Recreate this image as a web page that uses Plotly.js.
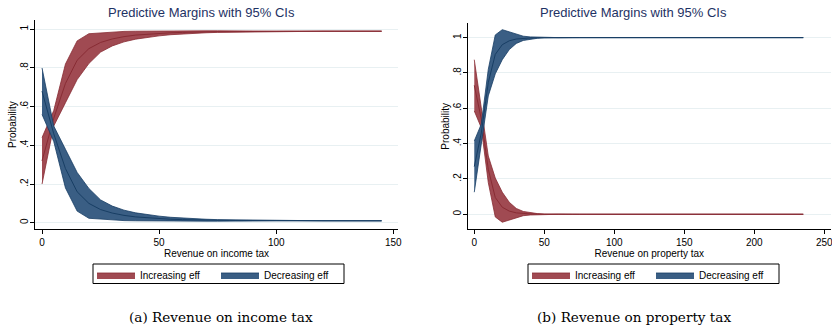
<!DOCTYPE html>
<html>
<head>
<meta charset="utf-8">
<script src="https://cdn.plot.ly/plotly-3.0.1.min.js"></script>
<style>
  html, body { margin: 0; padding: 0; background: #ffffff; }
  #chart { width: 832px; height: 329px; }
</style>
</head>
<body>
<div id="chart"></div>
<script>
// ---------- Panel (a): Revenue on income tax ----------
const incomeX = [0,5,10,15,20,25,30,35,40,45,50,55,60,65,70,75,80,85,90,95,100,105,110,115,120,125,130,135,140,145];
const incomeIncMid = [0.32,0.54,0.72,0.84,0.90,0.932,0.950,0.962,0.970,0.975,0.979,0.982,0.984,0.986,0.987,0.988,0.988,0.989,0.989,0.989,0.990,0.990,0.990,0.990,0.990,0.990,0.990,0.990,0.990,0.990];
const incomeIncLo  = [0.20,0.50,0.62,0.74,0.823,0.882,0.914,0.935,0.949,0.959,0.966,0.972,0.976,0.980,0.982,0.984,0.985,0.987,0.987,0.988,0.989,0.989,0.990,0.990,0.990,0.990,0.990,0.990,0.990,0.990];
const incomeIncHi  = [0.44,0.58,0.82,0.94,0.977,0.982,0.986,0.989,0.990,0.991,0.991,0.992,0.992,0.992,0.992,0.992,0.991,0.991,0.991,0.990,0.990,0.990,0.990,0.990,0.990,0.990,0.990,0.990,0.990,0.990];
const incomeDecMid = [0.68,0.46,0.28,0.16,0.10,0.068,0.050,0.038,0.030,0.025,0.021,0.018,0.016,0.014,0.013,0.012,0.012,0.011,0.011,0.011,0.010,0.010,0.010,0.010,0.010,0.010,0.010,0.010,0.010,0.010];
const incomeDecLo  = [0.56,0.42,0.18,0.06,0.023,0.018,0.014,0.011,0.010,0.009,0.009,0.008,0.008,0.008,0.008,0.008,0.009,0.009,0.009,0.010,0.010,0.010,0.010,0.010,0.010,0.010,0.010,0.010,0.010,0.010];
const incomeDecHi  = [0.80,0.50,0.38,0.26,0.177,0.118,0.086,0.065,0.051,0.041,0.034,0.028,0.024,0.020,0.018,0.016,0.015,0.013,0.013,0.012,0.011,0.011,0.010,0.010,0.010,0.010,0.010,0.010,0.010,0.010];

// ---------- Panel (b): Revenue on property tax ----------
const propX = [0,5,10,15,20,25,30,35,40,45,50,55,60,65,70,75,80,85,90,95,100,105,110,115,120,125,130,135,140,145,150,155,160,165,170,175,180,185,190,195,200,205,210,215,220,225,230,235];
const propDecMid = [0.27,0.46,0.745,0.905,0.96,0.982,0.992,0.996,0.998,0.999,1.0,1,1,1,1,1,1,1,1,1,1,1,1,1,1,1,1,1,1,1,1,1,1,1,1,1,1,1,1,1,1,1,1,1,1,1,1,1];
const propDecLo  = [0.125,0.41,0.67,0.795,0.875,0.932,0.967,0.984,0.992,0.996,0.999,1,1,1,1,1,1,1,1,1,1,1,1,1,1,1,1,1,1,1,1,1,1,1,1,1,1,1,1,1,1,1,1,1,1,1,1,1];
const propDecHi  = [0.415,0.51,0.82,1.015,1.045,1.032,1.017,1.008,1.004,1.002,1.001,1,1,1,1,1,1,1,1,1,1,1,1,1,1,1,1,1,1,1,1,1,1,1,1,1,1,1,1,1,1,1,1,1,1,1,1,1];
const propIncMid = [0.73,0.54,0.255,0.095,0.04,0.018,0.008,0.004,0.002,0.001,0,0,0,0,0,0,0,0,0,0,0,0,0,0,0,0,0,0,0,0,0,0,0,0,0,0,0,0,0,0,0,0,0,0,0,0,0,0];
const propIncLo  = [0.585,0.49,0.18,-0.015,-0.045,-0.032,-0.017,-0.008,-0.004,-0.002,-0.001,0,0,0,0,0,0,0,0,0,0,0,0,0,0,0,0,0,0,0,0,0,0,0,0,0,0,0,0,0,0,0,0,0,0,0,0,0];
const propIncHi  = [0.875,0.59,0.33,0.205,0.125,0.068,0.033,0.016,0.008,0.004,0.001,0,0,0,0,0,0,0,0,0,0,0,0,0,0,0,0,0,0,0,0,0,0,0,0,0,0,0,0,0,0,0,0,0,0,0,0,0];

// ---------- labels ----------
const seriesNames = ["Increasing eff", "Decreasing eff"];
const yTickVals = [0, 0.2, 0.4, 0.6, 0.8, 1];
const yTickText = ["0", ".2", ".4", ".6", ".8", "1"];
const incomeXTicks = [0, 50, 100, 150];
const propXTicks = [0, 50, 100, 150, 200, 250];
const panelTitle = "Predictive Margins with 95% CIs";
const yTitle = "Probability";
const xTitles = ["Revenue on income tax", "Revenue on property tax"];
const captions = ["(a) Revenue on income tax", "(b) Revenue on property tax"];

// ---------- style ----------
const RED_FILL = "rgb(160,74,82)";
const RED_LINE = "rgb(136,44,52)";
const BLUE_FILL = "rgb(58,94,132)";
const BLUE_LINE = "rgb(24,62,100)";
const FONT = "Liberation Sans, Arial, sans-serif";

function band(x, lo, hi, mid, name, fill, line, xa, ya, leg) {
  return [
    { x: x, y: lo, xaxis: xa, yaxis: ya, type: "scatter", mode: "lines",
      line: { color: line, width: 0.8 }, showlegend: false, hoverinfo: "skip", legend: leg },
    { x: x, y: hi, xaxis: xa, yaxis: ya, type: "scatter", mode: "lines", fill: "tonexty",
      fillcolor: fill, line: { color: line, width: 0.8 }, name: name, legend: leg, showlegend: true },
    { x: x, y: mid, xaxis: xa, yaxis: ya, type: "scatter", mode: "lines",
      line: { color: line, width: 1 }, showlegend: false, legend: leg }
  ];
}

const traces = [].concat(
  band(incomeX, incomeIncLo, incomeIncHi, incomeIncMid, seriesNames[0], RED_FILL, RED_LINE, "x", "y", "legend"),
  band(incomeX, incomeDecLo, incomeDecHi, incomeDecMid, seriesNames[1], BLUE_FILL, BLUE_LINE, "x", "y", "legend"),
  band(propX, propIncLo, propIncHi, propIncMid, seriesNames[0], RED_FILL, RED_LINE, "x2", "y2", "legend2"),
  band(propX, propDecLo, propDecHi, propDecMid, seriesNames[1], BLUE_FILL, BLUE_LINE, "x2", "y2", "legend2")
);

const W = 832, H = 329;
const px = v => v / W;
const py = v => 1 - v / H;

function xAxis(domain, range, ticks, title, anchor) {
  return {
    domain: domain, range: range, anchor: anchor,
    tickvals: ticks, ticktext: ticks.map(String),
    ticks: "outside", ticklen: 4, tickwidth: 1, tickcolor: "#000",
    showline: true, linecolor: "#000", linewidth: 1,
    showgrid: false, zeroline: false, ticklabeloverflow: "allow",
    tickfont: { family: FONT, size: 10, color: "#000" },
    title: { text: title, font: { family: FONT, size: 10, color: "#000" }, standoff: 1 }
  };
}
function yAxis(domain, range, anchor) {
  return {
    domain: domain, range: range, anchor: anchor,
    tickvals: yTickVals, ticktext: yTickText, tickangle: -90,
    ticks: "outside", ticklen: 4, tickwidth: 1, tickcolor: "#000",
    showline: true, linecolor: "#000", linewidth: 1,
    showgrid: true, gridcolor: "rgb(232,240,242)", gridwidth: 1,
    zeroline: false, ticklabelstandoff: -2,
    tickfont: { family: FONT, size: 10, color: "#000" },
    title: { text: yTitle, font: { family: FONT, size: 10, color: "#000" }, standoff: 0 }
  };
}

const legendBase = {
  orientation: "h", xanchor: "left", yanchor: "top",
  bgcolor: "rgba(0,0,0,0)", bordercolor: "#000", borderwidth: 0,
  font: { family: FONT, size: 10, color: "#000" },
  traceorder: "normal", entrywidth: 71, itemwidth: 38, tracegroupgap: 0
};

const boxShape = (x0, x1) => ({
  type: "rect", xref: "paper", yref: "paper",
  x0: px(x0), x1: px(x1), y0: py(283.5), y1: py(264),
  line: { color: "#000", width: 1 }, fillcolor: "rgba(0,0,0,0)", layer: "above"
});

const layout = {
  width: W, height: H,
  margin: { l: 0, r: 0, t: 0, b: 0 },
  paper_bgcolor: "#fff", plot_bgcolor: "#fff",
  showlegend: true,
  xaxis: xAxis([px(35), px(398)], [-3, 152], incomeXTicks, xTitles[0], "y"),
  yaxis: yAxis([1 - 229.3 / H, 1 - 20 / H], [-0.034, 1.048], "x"),
  xaxis2: xAxis([px(467.7), px(831)], [-4.7, 254.8], propXTicks, xTitles[1], "y2"),
  yaxis2: yAxis([1 - 229.3 / H, 1 - 23.3 / H], [-0.085, 1.081], "x2"),
  legend: Object.assign({}, legendBase, { x: px(92), y: py(260.5) }),
  legend2: Object.assign({}, legendBase, { x: px(527), y: py(260.5) }),
  shapes: [boxShape(93, 344), boxShape(528, 779)],
  annotations: [
    { text: panelTitle, xref: "paper", yref: "paper", x: px(201.7), y: py(12.3),
      xanchor: "center", yanchor: "middle", showarrow: false,
      font: { family: FONT, size: 13, color: "rgb(30,50,100)" } },
    { text: panelTitle, xref: "paper", yref: "paper", x: px(633.5), y: py(12.3),
      xanchor: "center", yanchor: "middle", showarrow: false,
      font: { family: FONT, size: 13, color: "rgb(30,50,100)" } },
    { text: captions[0], xref: "paper", yref: "paper", x: px(221), y: py(317),
      xanchor: "center", yanchor: "middle", showarrow: false,
      font: { family: "DejaVu Serif, Liberation Serif, serif", size: 13.6, color: "#000" } },
    { text: captions[1], xref: "paper", yref: "paper", x: px(634), y: py(317),
      xanchor: "center", yanchor: "middle", showarrow: false,
      font: { family: "DejaVu Serif, Liberation Serif, serif", size: 13.6, color: "#000" } }
  ]
};

Plotly.newPlot("chart", traces, layout, { staticPlot: true, displayModeBar: false });
</script>
</body>
</html>
